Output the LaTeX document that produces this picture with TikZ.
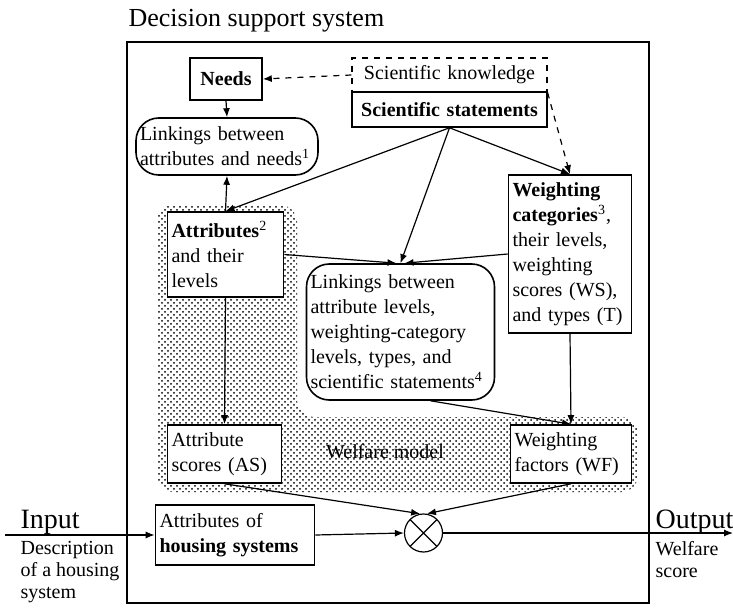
\documentclass[tikz,border=0pt]{standalone}
\usepackage{fontspec}
\setmainfont{Liberation Serif}
\usetikzlibrary{arrows.meta,patterns}

\begin{document}
\begin{tikzpicture}[x=0.5pt,y=-0.5pt,line width=0.6pt,>={Latex[length=4.5pt,width=3.5pt]}]
        %
        % `box' is used for the plain boxes, `roundbox' for the linkings.
        % `mult' is the multiplication point (circle with cross).
        % `plaintext' is used for the text outside the boxes.
        \tikzstyle{box} = [draw,fill=white,line width=0.8pt,inner sep=2pt,font=\fontsize{10}{12.5}\selectfont]
        \tikzstyle{roundbox} = [box,rounded corners=4mm]
        \tikzstyle{dashbox} = [box,dashed,line width=0.6pt]
        \tikzstyle{mult} = [draw,circle,fill=white,minimum size=19pt,inner sep=0pt,line width=0.6pt,
          path picture={\draw (path picture bounding box.north west) -- (path picture bounding box.south east)
          (path picture bounding box.north east) -- (path picture bounding box.south west);}]
        \tikzstyle{plaintext} = [inner sep=0pt,align=left,font=\fontsize{10}{11}\selectfont]
        \tikzstyle{bigtext} = [inner sep=0pt,font=\fontsize{14}{16}\selectfont]
        %
        \useasboundingbox (0,0) rectangle (733,609);
        %
        % Frame and title
        \node[anchor=base west,inner sep=0pt,font=\fontsize{13}{15}\selectfont] (title) at (128,27) {Decision support system};
        \draw[line width=0.8pt] (127,42) rectangle (649,603);
        %
        % Welfare model (dotted area)
        \fill[pattern=crosshatch dots,pattern color=black,rounded corners=3mm]
          (157,205) -- (297,205) -- (297,417) -- (638,417) -- (638,492) -- (157,492) -- cycle;
        \node[font=\fontsize{10}{12}\selectfont] (wm) at (385,452) {Welfare model};
        %
        % Row 1
        \node[box,text width=32pt,align=center,minimum height=21pt] (needs) at (226,79) {\textbf{Needs}};
        \node[dashbox,text width=93.5pt,align=center,minimum height=17pt] (sk) at (449.5,75) {Scientific knowledge};
        \node[box,text width=93.5pt,align=center,minimum height=17.5pt] (ss) at (449.5,109.5) {\textbf{Scientific statements}};
        %
        % Row 2
        \node[roundbox,text width=87pt,align=left,minimum height=28.5pt] (lan) at (227,146.5)
          {Linkings between\\attributes and needs\textsuperscript{1}};
        %
        % Row 3
        \node[box,text width=54pt,align=left,minimum height=42.5pt] (attr) at (225.5,254.5)
          {\textbf{Attributes}\textsuperscript{2}\\and their\\levels};
        \node[roundbox,text width=90pt,align=left,minimum height=68pt] (lal) at (400.5,332)
          {Linkings between\\attribute levels,\\weighting-category\\levels, types, and\\scientific statements\textsuperscript{4}};
        \node[box,text width=57.5pt,align=left,minimum height=79pt] (wc) at (570,254)
          {\textbf{Weighting}\\\textbf{categories}\textsuperscript{3},\\their levels,\\weighting\\scores (WS),\\and types (T)};
        %
        % Row 4
        \node[box,text width=53pt,align=left,minimum height=29pt] (as) at (224.5,454) {Attribute\\scores (AS)};
        \node[box,text width=56.5pt,align=left,minimum height=29pt] (wf) at (571,454) {Weighting\\factors (WF)};
        %
        % Row 5
        \node[box,text width=75.5pt,align=left,minimum height=30pt] (ahs) at (235,535)
          {Attributes of\\\textbf{housing systems}};
        \node[mult] (mult) at (423.5,533) {};
        %
        % Input and output
        \node[bigtext,anchor=base west] (input) at (20,528) {Input};
        \node[plaintext,anchor=north west] (desc) at (20,541) {Description\\of a housing\\system};
        \node[bigtext,anchor=base west] (output) at (655,528) {Output};
        \node[plaintext,anchor=north west] (score) at (655,541) {Welfare\\score};
        \coordinate (in) at (5,535);
        \coordinate (out) at (733,533);
        %
        % Connectors
        \draw[->,dashed] (sk.west) -- (needs.east);
        \draw[->,dashed] (sk.south east) -- (wc.north);
        \draw[->] (needs.south) -- (lan.north);
        \draw[->] (attr.north) -- (lan.south);
        \draw[->] (ss.south) -- (attr.north);
        \draw[->] (ss.south) -- (lal.north);
        \draw[->] (ss.south) -- (wc.north);
        \draw[->] (attr.east) -- ([xshift=-2pt]lal.north);
        \draw[->] (wc.west) -- ([xshift=2pt]lal.north);
        \draw[->] (attr.south) -- (as.north);
        \draw[->] (wc.south) -- (wf.north);
        \draw[->] ([xshift=15pt]lal.south) -- (wf.north);
        \draw[->] (as.south) -- (mult.100);
        \draw[->] (wf.south) -- (mult.80);
        \draw[->] (in) -- (ahs.west);
        \draw[->] (ahs.east) -- (mult.west);
        \draw[->] (mult.east) -- (out);
        %
\end{tikzpicture}
\end{document}
